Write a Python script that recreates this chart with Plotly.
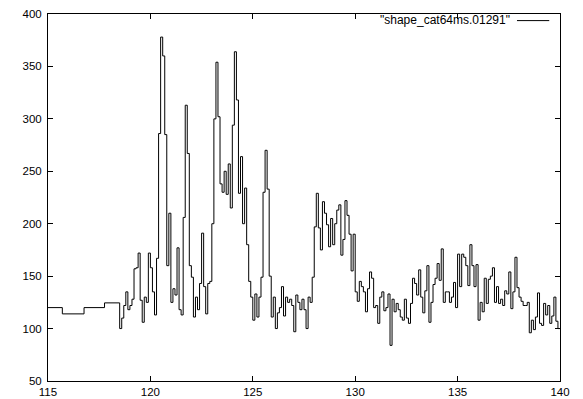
import numpy as np
import plotly.graph_objects as go

# coarse leading steps (start of each step, value)
coarse_x = [115.0, 115.7, 116.76, 117.76]
coarse_y = [120, 114, 120, 124.5]

# dense part: bins of width 0.1 starting at 118.5, ending at 140
dense_start = 118.5
dense_width = 0.1
dense_y = [
    100, 110, 122, 135, 118, 122, 128, 157, 158, 172,
    127, 106, 130, 125, 172, 158, 135, 113, 167, 286,
    378, 360, 285, 160, 210, 125, 138, 132, 177, 118,
    113, 206, 313, 267, 160, 149, 111, 130, 118, 143,
    191, 140, 114, 143, 145, 200, 300, 354, 302, 238,
    230, 250, 228, 257, 215, 294, 364, 318, 229, 264,
    200, 234, 180, 145, 130, 108, 133, 111, 130, 149,
    230, 270, 233, 150, 111, 130, 100, 115, 120, 140,
    112, 130, 125, 128, 122, 97, 132, 125, 118, 128,
    118, 100, 130, 125, 149, 197, 229, 196, 175, 221,
    210, 199, 178, 205, 180, 200, 213, 218, 170, 185,
    222, 208, 190, 155, 190, 135, 126, 145, 140, 135,
    116, 138, 154, 148, 120, 122, 105, 130, 135, 117,
    120, 133, 84, 128, 116, 124, 118, 111, 108, 128,
    110, 105, 124, 148, 143, 132, 156, 130, 115, 136,
    160, 106, 125, 142, 148, 162, 146, 176, 125, 135,
    135, 125, 130, 144, 120, 171, 140, 171, 168, 160,
    141, 180, 160, 140, 161, 108, 125, 116, 148, 124,
    147, 150, 158, 125, 140, 124, 128, 122, 136, 133,
    154, 119, 135, 168, 139, 130, 126, 122, 122, 125,
    96, 108, 99, 111, 134, 105, 103, 124, 113, 122,
    105, 112, 130, 107, 100,
]
x_end = 140.0

x_ticks = [115, 120, 125, 130, 135, 140]
y_ticks = [50, 100, 150, 200, 250, 300, 350, 400]
legend_label = '"shape_cat64ms.01291"'

dense_x = [dense_start + i * dense_width for i in range(len(dense_y))]
xs = coarse_x + dense_x + [x_end]
ys = coarse_y + dense_y + [dense_y[-1]]

fig = go.Figure()
fig.add_trace(go.Scatter(
    x=xs, y=ys, mode="lines", line_shape="hv",
    line=dict(color="black", width=1), showlegend=False,
    hoverinfo="skip",
))

# gnuplot-style key: text then line sample at right
fig.add_annotation(
    x=0.907, y=0.984, xref="paper", yref="paper",
    xanchor="right", yanchor="middle", showarrow=False,
    text=legend_label, font=dict(size=12, color="black", family="Liberation Sans, Arial"),
)
fig.add_shape(type="line", xref="paper", yref="paper",
              x0=0.916, x1=0.979, y0=0.982, y1=0.982,
              line=dict(color="black", width=1))

axis_common = dict(
    showline=True, linecolor="black", linewidth=1, mirror="ticks",
    ticks="inside", ticklen=5, tickcolor="black", tickwidth=1,
    showgrid=False, zeroline=False, automargin=False,
    tickfont=dict(size=11.5, color="black", family="Liberation Sans, Arial"),
)
fig.update_xaxes(range=[115, 140], tickvals=x_ticks, **axis_common)
fig.update_yaxes(range=[50, 400], tickvals=y_ticks, ticklabelstandoff=3, **axis_common)

fig.update_layout(
    width=583, height=399,
    margin=dict(l=48, r=23, t=14, b=18, pad=0),
    plot_bgcolor="white", paper_bgcolor="white",
)

fig.write_html("out.html")
